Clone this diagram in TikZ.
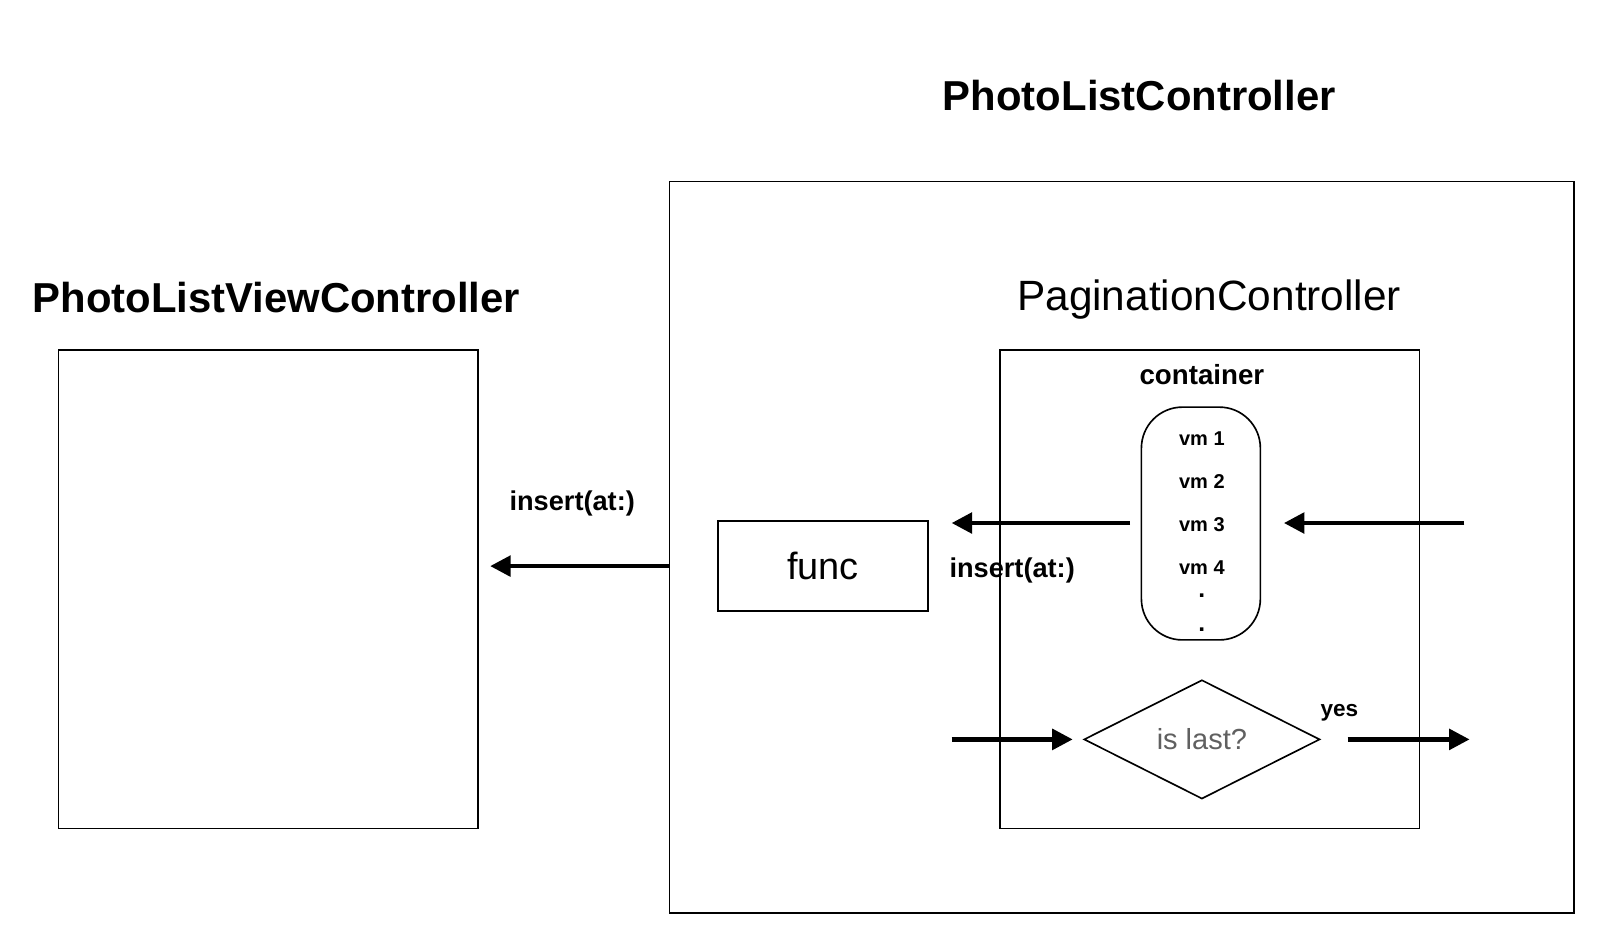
\documentclass[tikz,border=0pt]{standalone}
\usepackage{fontspec}
\setmainfont{Liberation Sans}
\usetikzlibrary{shapes.geometric,arrows.meta}
\definecolor{txtgray}{HTML}{606060}
\begin{document}
\begin{tikzpicture}[x=1pt,y=-1pt,
  box/.style={draw, line width=1.6pt, inner sep=0pt},
  conn/.style={line width=4.2pt, -{Triangle[length=20pt,width=20pt]}},
  txt/.style={inner sep=0pt, anchor=base},
  title/.style={txt, font=\bfseries\fontsize{40.8}{44}\selectfont},
  lbl/.style={txt, font=\bfseries\fontsize{26.5}{30}\selectfont},
  vm/.style={txt, font=\bfseries\fontsize{19.5}{22}\selectfont},
]
\useasboundingbox (0,0) rectangle (1568,926.4);

% boxes
\node[box, minimum width=882pt, minimum height=713pt] (outer) at (1094,533.5) {};
\node[box, minimum width=409pt, minimum height=467pt] (view) at (261.5,574.5) {};
\node[box, minimum width=409pt, minimum height=467pt] (inner) at (1179.5,574.5) {};
\node[box, rounded corners=40pt, minimum width=116pt, minimum height=227pt] (cont) at (1171,510.5) {};
\node[box, minimum width=205pt, minimum height=88pt] (func) at (802.5,552) {};
\node[box, diamond, minimum width=230pt, minimum height=116pt] (dec) at (1172,721) {};

% titles
\node[title] (t1) at (1111,108) {PhotoListController};
\node[title] (t2) at (269.5,305) {PhotoListViewController};
\node[txt, font=\fontsize{41.3}{46}\selectfont] (t3) at (1179,303) {PaginationController};
\node[txt, font=\bfseries\fontsize{27}{30}\selectfont] (t4) at (1172,375) {container};

% container items
\node[vm] (vm1) at (1172,434) {vm 1};
\node[vm] (vm2) at (1172,476) {vm 2};
\node[vm] (vm3) at (1172,518) {vm 3};
\node[vm] (vm4) at (1172,560) {vm 4};
\node[vm, font=\bfseries\fontsize{24}{26}\selectfont] (d1) at (1172,583) {.};
\node[vm, font=\bfseries\fontsize{24}{26}\selectfont] (d2) at (1172,616) {.};

% other texts
\node[txt, font=\fontsize{37}{40}\selectfont] (ftxt) at (802.5,565) {func};
\node[lbl] (ins1) at (558,498) {insert(at:)};
\node[lbl] (ins2) at (987,563) {insert(at:)};
\node[inner sep=0pt, text=txtgray, font=\fontsize{28.3}{32}\selectfont] (q) at (dec.center) {is last?};
\node[txt, font=\bfseries\fontsize{22}{25}\selectfont] (yes) at (1306,699) {yes};

% connector ends
\coordinate (e1) at (478,552);
\coordinate (s2) at (1102,510);
\coordinate (e2) at (928,510);
\coordinate (s3) at (1428,510);
\coordinate (e3) at (1252,510);
\coordinate (s4) at (928,721);
\coordinate (e4) at (1046,721);
\coordinate (s5) at (1314,721);
\coordinate (e5) at (1433,721);

% connectors
\draw[conn] (outer.west |- func.center) -- (e1);
\draw[conn] (s2) -- (e2);
\draw[conn] (s3) -- (e3);
\draw[conn] (s4) -- (e4);
\draw[conn] (s5) -- (e5);
\end{tikzpicture}
\end{document}
